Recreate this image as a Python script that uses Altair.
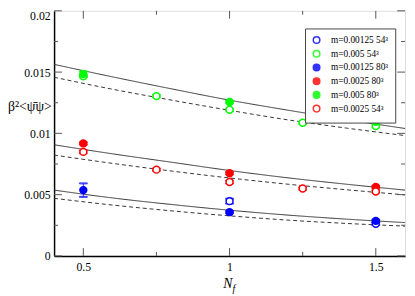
import altair as alt
import pandas as pd

FONT = "Liberation Serif, Times New Roman, Times, serif"
W, H = 358, 250

series_names = ["m=0.00125 54³", "m=0.005 54³", "m=0.00125 80³",
                "m=0.0025 80³", "m=0.005 80³", "m=0.0025 54³"]
stroke_colors = ["#0000ff", "#00ff00", "#0000ff", "#ff0000", "#00ff00", "#ff0000"]
fill_colors = ["#ffffff", "#ffffff", "#0000ff", "#ff0000", "#00ff00", "#ffffff"]

# data points per series (N_f, value, error)
nf_s1 = [1.0, 1.5]
val_s1 = [0.00447, 0.00262]
err_s1 = [0.0002, 0.0001]

nf_s2 = [0.5, 0.75, 1.0, 1.25, 1.5]
val_s2 = [0.01466, 0.01304, 0.01193, 0.01087, 0.01060]
err_s2 = [0.0001, 0.0001, 0.0001, 0.0001, 0.0001]

nf_s3 = [0.5, 1.0, 1.5]
val_s3 = [0.00537, 0.00357, 0.00286]
err_s3 = [0.00055, 0.0001, 0.0001]

nf_s4 = [0.5, 1.0, 1.5]
val_s4 = [0.00918, 0.00675, 0.00563]
err_s4 = [0.0001, 0.0001, 0.0001]

nf_s5 = [0.5, 1.0, 1.5]
val_s5 = [0.01485, 0.01256, 0.01095]
err_s5 = [0.0002, 0.0001, 0.0001]

nf_s6 = [0.5, 0.75, 1.0, 1.25, 1.5]
val_s6 = [0.00849, 0.00704, 0.00603, 0.00550, 0.00526]
err_s6 = [0.00012, 0.0001, 0.00012, 0.0001, 0.0001]

# fit curves
curve_nf = [0.4, 0.6, 0.8, 1.0, 1.2, 1.4, 1.6]
top_solid = [0.01563, 0.01461, 0.01364, 0.01271, 0.01189, 0.01112, 0.01040]
top_dashed = [0.01458, 0.01360, 0.01272, 0.01188, 0.01110, 0.01043, 0.00982]
mid_solid = [0.00907, 0.00833, 0.00765, 0.00697, 0.00637, 0.00585, 0.00537]
mid_dashed = [0.00823, 0.00755, 0.00693, 0.00636, 0.00585, 0.00540, 0.00498]
bot_solid = [0.00537, 0.00473, 0.00420, 0.00373, 0.00333, 0.00300, 0.00272]
bot_dashed = [0.00470, 0.00415, 0.00368, 0.00327, 0.00292, 0.00265, 0.00243]

x_major = [0.5, 1.0, 1.5]
x_minor = [0.75, 1.25]
y_major = [0.0, 0.005, 0.01, 0.015, 0.02]
y_minor = [0.0025, 0.0075, 0.0125, 0.0175]

rows = []
for name, nfs, vals, errs in zip(series_names,
                                 [nf_s1, nf_s2, nf_s3, nf_s4, nf_s5, nf_s6],
                                 [val_s1, val_s2, val_s3, val_s4, val_s5, val_s6],
                                 [err_s1, err_s2, err_s3, err_s4, err_s5, err_s6]):
    for n, v, e in zip(nfs, vals, errs):
        rows.append({"series": name, "nf": n, "val": v, "lo": v - e, "hi": v + e})
pts = pd.DataFrame(rows)

crow = []
for cname, style, vals in [("ts", "solid", top_solid), ("td", "dashed", top_dashed),
                           ("ms", "solid", mid_solid), ("md", "dashed", mid_dashed),
                           ("bs", "solid", bot_solid), ("bd", "dashed", bot_dashed)]:
    for n, v in zip(curve_nf, vals):
        crow.append({"curve": cname, "style": style, "nf": n, "val": v})
curves = pd.DataFrame(crow)

xs = alt.Scale(domain=[0.4, 1.6], nice=False, zero=False)
ys = alt.Scale(domain=[0.0, 0.02], nice=False, zero=False)

xaxis = alt.Axis(values=x_major, format="~g", ticks=False, grid=False, title=None,
                 labelFont=FONT, labelFontSize=12, labelColor="black", labelPadding=6,
                 domainColor="black", domainWidth=1.5)
yaxis = alt.Axis(values=y_major, format="~g", ticks=False, grid=False, title=None,
                 labelFont=FONT, labelFontSize=12, labelColor="black", labelPadding=4,
                 labelBaseline={"condition": {"test": "datum.value >= 0.0199", "value": "top"},
                                "value": "middle"},
                 domainColor="black", domainWidth=1.5)

color_scale = alt.Scale(domain=series_names, range=stroke_colors)
fill_scale = alt.Scale(domain=series_names, range=fill_colors)
legend = alt.Legend(title=None, orient="none", legendX=256, legendY=18,
                    labelFont=FONT, labelFontSize=9.5, labelColor="black",
                    symbolSize=45, symbolStrokeWidth=1.5, labelOffset=10,
                    padding=7, rowPadding=0, strokeColor="#444444", fillColor="white",
                    symbolType="circle")


def X(field):
    return alt.X(field, scale=xs, axis=xaxis)


def Y(field):
    return alt.Y(field, scale=ys, axis=yaxis)


lines = alt.Chart(curves).mark_line(color="#333333", strokeWidth=1, interpolate="monotone").encode(
    x=X("nf:Q"),
    y=Y("val:Q"),
    detail="curve:N",
    strokeDash=alt.StrokeDash("style:N", scale=alt.Scale(domain=["solid", "dashed"],
                                                         range=[[1, 0], [4, 3]]), legend=None),
)

err_rule = alt.Chart(pts).mark_rule(strokeWidth=1, opacity=0.8).encode(
    x=X("nf:Q"),
    y=Y("lo:Q"),
    y2="hi:Q",
    stroke=alt.Stroke("series:N", scale=color_scale, legend=legend),
)
cap_lo = alt.Chart(pts).mark_tick(orient="horizontal", size=8, thickness=1, opacity=0.8).encode(
    x=X("nf:Q"),
    y=Y("lo:Q"),
    stroke=alt.Stroke("series:N", scale=color_scale, legend=legend),
)
cap_hi = alt.Chart(pts).mark_tick(orient="horizontal", size=8, thickness=1, opacity=0.8).encode(
    x=X("nf:Q"),
    y=Y("hi:Q"),
    stroke=alt.Stroke("series:N", scale=color_scale, legend=legend),
)

points = alt.Chart(pts).mark_point(shape="circle", filled=True, size=50, strokeWidth=1.5, opacity=1).encode(
    x=X("nf:Q"),
    y=Y("val:Q"),
    stroke=alt.Stroke("series:N", scale=color_scale, legend=legend),
    fill=alt.Fill("series:N", scale=fill_scale, legend=legend),
)

# inward ticks on all four sides
xmaj = pd.DataFrame({"v": x_major})
xmin = pd.DataFrame({"v": x_minor})
ymaj = pd.DataFrame({"v": y_major})
ymin = pd.DataFrame({"v": y_minor})
TC = "#555555"


def xticks(df, length):
    b = alt.Chart(df).mark_rule(color=TC, strokeWidth=1).encode(
        x=X("v:Q"), y=alt.value(H), y2=alt.value(H - length))
    t = alt.Chart(df).mark_rule(color=TC, strokeWidth=1).encode(
        x=X("v:Q"), y=alt.value(0), y2=alt.value(length))
    return [b, t]


def yticks(df, length):
    l = alt.Chart(df).mark_rule(color=TC, strokeWidth=1).encode(
        y=Y("v:Q"), x=alt.value(0), x2=alt.value(length))
    r = alt.Chart(df).mark_rule(color=TC, strokeWidth=1).encode(
        y=Y("v:Q"), x=alt.value(W), x2=alt.value(W - length))
    return [l, r]


ticks = xticks(xmaj, 8) + xticks(xmin, 4) + yticks(ymaj, 8) + yticks(ymin, 4)

lab = pd.DataFrame({"t": ["x"]})
ytitle = alt.Chart(lab).mark_text(text="β²<ψ̄ψ>", font=FONT, fontSize=14, align="left",
                                  baseline="middle", color="black").encode(
    x=alt.value(-47), y=alt.value(98))
xtitle_n = alt.Chart(lab).mark_text(text="N", font=FONT, fontSize=14, fontStyle="italic",
                                    align="right", baseline="alphabetic", color="black").encode(
    x=alt.value(182), y=alt.value(283))
xtitle_f = alt.Chart(lab).mark_text(text="f", font=FONT, fontSize=10, fontStyle="italic",
                                    align="left", baseline="alphabetic", color="black").encode(
    x=alt.value(182), y=alt.value(287))

chart = alt.layer(lines, *ticks, err_rule, cap_lo, cap_hi, points, ytitle, xtitle_n, xtitle_f).properties(
    width=W, height=H,
    autosize=alt.AutoSizeParams(type="none"),
    padding={"left": 47, "top": 0, "right": 2, "bottom": 38},
).configure_view(stroke="#666666", strokeWidth=1.5).configure(background="white")

chart.save("out.html", embed_options={"renderer": "svg", "actions": False})
